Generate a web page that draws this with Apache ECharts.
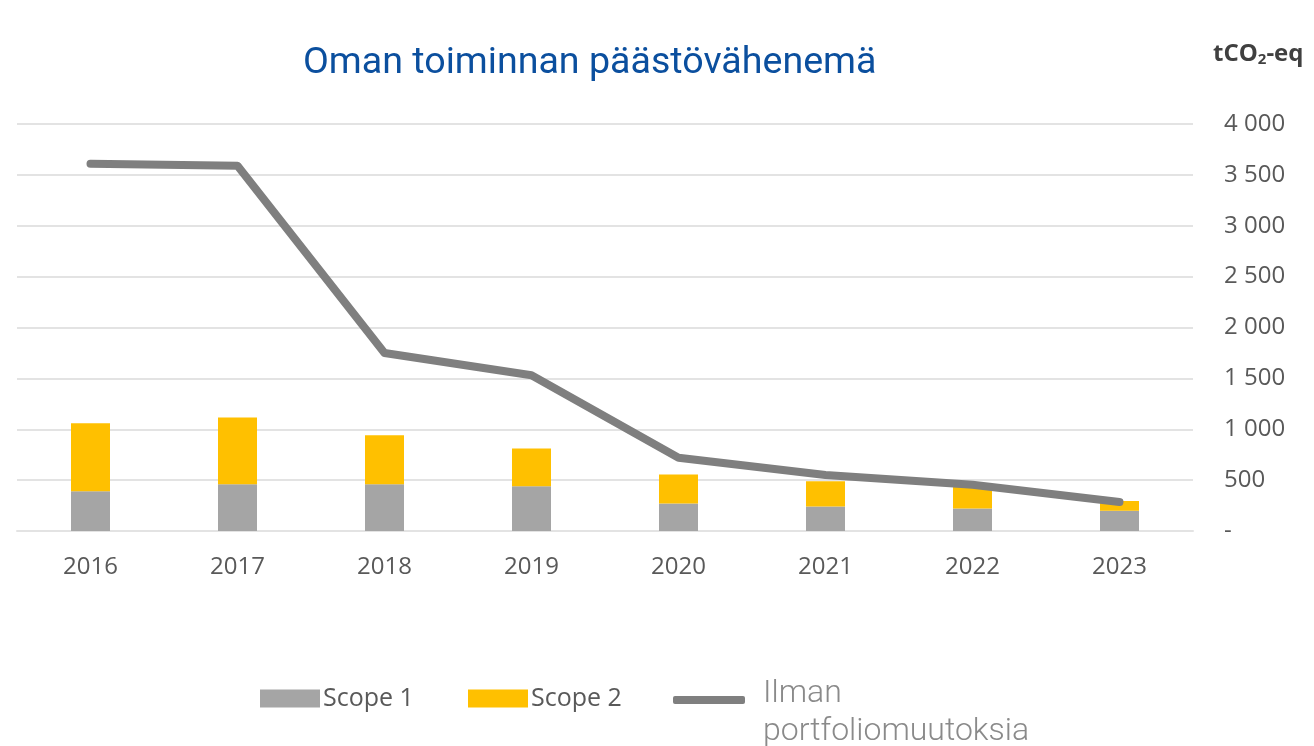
<!DOCTYPE html>
<html>
<head>
<meta charset="utf-8">
<script src="https://cdn.jsdelivr.net/npm/echarts@6/dist/echarts.min.js"></script>
<style>
  html, body { margin: 0; padding: 0; background: #ffffff; }
  #chart { width: 1314px; height: 746px; }
</style>
</head>
<body>
<div id="chart"></div>
<script>
// Years on the category axis
const years = ['2016', '2017', '2018', '2019', '2020', '2021', '2022', '2023'];
// Stacked emissions, tCO2-eq
const scope1 = [390, 460, 460, 440, 270, 240, 220, 200];
const scope2 = [670, 655, 480, 370, 285, 250, 230, 95];
// Emissions without portfolio changes, tCO2-eq
const ilmanPortfolio = [3610, 3590, 1750, 1530, 720, 550, 455, 285];
// Value axis ticks
const yTicks = [0, 500, 1000, 1500, 2000, 2500, 3000, 3500, 4000];

const chart = echarts.init(document.getElementById('chart'));

function fmtTick(v) {
  if (v === 0) return '-';
  return String(v).replace(/\B(?=(\d{3})+(?!\d))/g, ' ');
}

const axisFont = '"Open Sans", "Noto Sans", sans-serif';
const legendFont = '"Liberation Sans Narrow", "Open Sans", sans-serif';
const lineLegendText = { color: '#8a8a8a', fontFamily: 'Roboto, sans-serif', fontWeight: 300, fontSize: 32, lineHeight: 38 };

chart.setOption({
  backgroundColor: '#ffffff',
  animation: false,
  title: [
    {
      text: 'Oman toiminnan päästövähenemä',
      left: 298,
      top: 40,
      textStyle: { color: '#0b4f9e', fontFamily: 'Roboto, sans-serif', fontWeight: 'normal', fontSize: 37.6 }
    },
    {
      text: '{a|tCO}{s|2}{a|-eq}',
      left: 1208,
      top: 35,
      textStyle: {
        rich: {
          a: { color: '#404040', fontFamily: axisFont, fontWeight: 'bold', fontSize: 24, lineHeight: 28 },
          s: { color: '#404040', fontFamily: axisFont, fontWeight: 'bold', fontSize: 15, lineHeight: 28, padding: [12, 0, 0, 0] }
        }
      }
    }
  ],
  legend: [
    {
      data: ['Scope 1'], left: 255, top: 681, itemWidth: 60, itemHeight: 18, itemGap: 0,
      icon: 'rect', selectedMode: false,
      textStyle: { color: '#595959', fontFamily: legendFont, fontSize: 25, padding: [0, 0, 0, -2] }
    },
    {
      data: ['Scope 2'], left: 463, top: 681, itemWidth: 60, itemHeight: 18, itemGap: 0,
      icon: 'rect', selectedMode: false,
      textStyle: { color: '#595959', fontFamily: legendFont, fontSize: 25, padding: [0, 0, 0, -2] }
    },
    {
      data: ['Ilman portfoliomuutoksia'], left: 668, top: 652, itemWidth: 72, itemHeight: 8, itemGap: 0,
      icon: 'roundRect', selectedMode: false,
      // first word sits level with the line swatch, the rest wraps below it
      formatter: function (name) {
        const parts = name.split(' ');
        return '{gap| }\n{t|' + parts[0] + '}\n{t|' + parts.slice(1).join(' ') + '}';
      },
      textStyle: {
        padding: [0, 0, 0, 13],
        rich: {
          gap: { fontSize: 10, lineHeight: 26 },
          t: lineLegendText
        }
      }
    }
  ],
  grid: { left: 17, right: 121, top: 124, bottom: 215, containLabel: false },
  xAxis: {
    type: 'category',
    data: years,
    axisLine: { show: true, lineStyle: { color: '#e3e3e3', width: 2 } },
    axisTick: { show: false },
    axisLabel: { color: '#595959', fontFamily: axisFont, fontSize: 24, margin: 24 }
  },
  yAxis: {
    type: 'value',
    position: 'right',
    min: yTicks[0],
    max: yTicks[yTicks.length - 1],
    interval: 500,
    axisLine: { show: false },
    axisTick: { show: false },
    splitLine: { lineStyle: { color: '#e3e3e3', width: 2 } },
    axisLabel: { color: '#595959', fontFamily: axisFont, fontSize: 24, margin: 31, align: 'left', formatter: fmtTick }
  },
  series: [
    {
      name: 'Scope 1', type: 'bar', stack: 'total', data: scope1, barWidth: 39,
      itemStyle: { color: '#a5a5a5' }
    },
    {
      name: 'Scope 2', type: 'bar', stack: 'total', data: scope2, barWidth: 39,
      itemStyle: { color: '#ffc000' }
    },
    {
      name: 'Ilman portfoliomuutoksia', type: 'line', data: ilmanPortfolio,
      showSymbol: false, symbol: 'none',
      lineStyle: { color: '#7f7f7f', width: 8, cap: 'round', join: 'round' },
      itemStyle: { color: '#7f7f7f' }
    }
  ]
});
</script>
</body>
</html>
